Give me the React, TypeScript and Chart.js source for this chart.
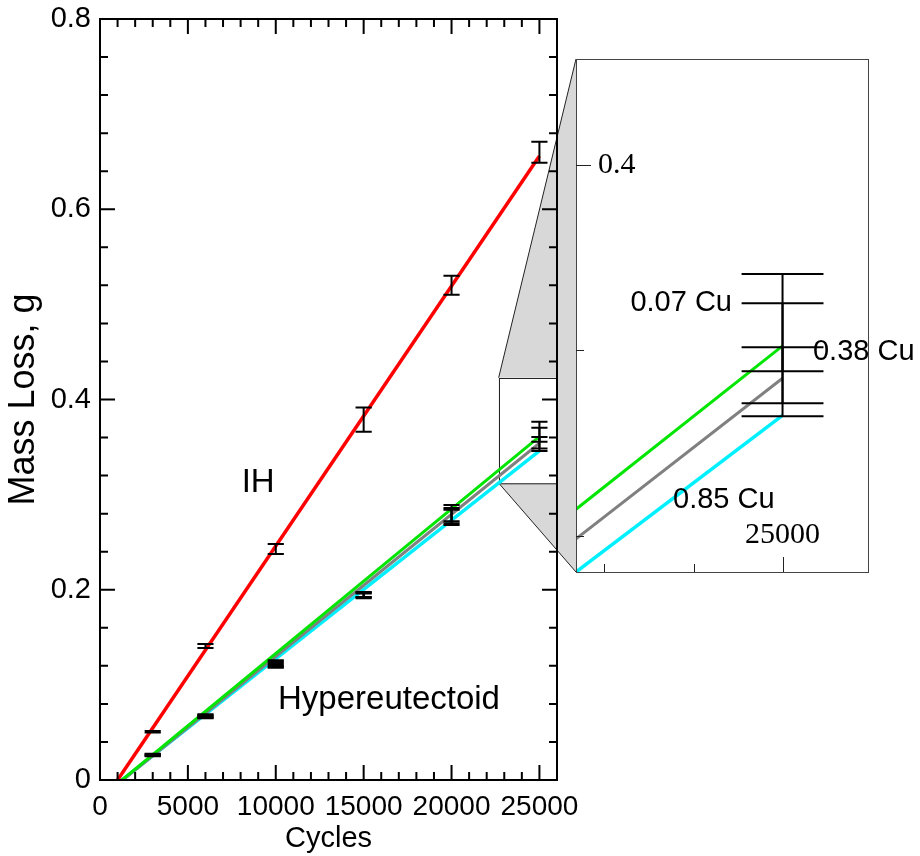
import React, { useEffect, useRef } from "react";
import { Chart, registerables } from "chart.js";

Chart.register(...registerables);

// ---------------- data ----------------
const cycles = [3000, 6000, 10000, 15000, 20000, 25000];

const ihLow = [0.05, 0.1388, 0.2377, 0.3662, 0.51, 0.649];
const ihHigh = [0.0515, 0.143, 0.248, 0.3915, 0.53, 0.671];
const cu007Low = [0.025, 0.065, 0.118, 0.191, 0.268, 0.3458];
const cu007High = [0.0275, 0.069, 0.126, 0.1977, 0.289, 0.3765];
const cu038Low = [0.026, 0.066, 0.119, 0.192, 0.27, 0.3486];
const cu038High = [0.027, 0.068, 0.124, 0.197, 0.286, 0.3702];
const cu085Low = [0.0255, 0.0655, 0.12, 0.1925, 0.272, 0.3555];
const cu085High = [0.0265, 0.0675, 0.122, 0.196, 0.284, 0.3607];

// fitted lines (end points)
const ihFitX = [1000, 25000];
const ihFitY = [0, 0.656];
const cu007FitX = [1250, 25000];
const cu007FitY = [0, 0.361];
const cu038FitX = [1300, 25000];
const cu038FitY = [0, 0.354];
const cu085FitX = [1250, 25000];
const cu085FitY = [0, 0.346];

const xTickLabels = [0, 5000, 10000, 15000, 20000, 25000];
const yTickLabels = [0, 0.2, 0.4, 0.6, 0.8];
const insetXMajor = [25000];
const insetXMinor = [23000, 24000];
const insetYMajor = [0.4];
const insetYMinor = [0.32, 0.36];
const zoomXRange = [22680, 25960];
const zoomYRange = [0.3122, 0.4229];

const groupLabels = ["IH", "Hypereutectoid"];
const seriesLabels = ["0.07 Cu", "0.38 Cu", "0.85 Cu"];

// ---------------- layout / style ----------------
const W = 920;
const H = 856;
const INSET = { left: 576, top: 59, right: 868, bottom: 572 };
const SANS = '"Liberation Sans", Arial, sans-serif';
const SERIF = '"Liberation Serif", "Times New Roman", serif';
const RED = "#ff0000";
const GREEN = "#00e600";
const GRAY = "#808080";
const CYAN = "#00f0ff";
const CAP_HALF = 460; // in cycles

const pts = (xs: number[], ys: number[]) => xs.map((x, i) => ({ x, y: ys[i] }));

const errorSets = [
  { x: cycles, low: ihLow, high: ihHigh },
  { x: cycles, low: cu007Low, high: cu007High },
  { x: cycles, low: cu038Low, high: cu038High },
  { x: cycles, low: cu085Low, high: cu085High },
];

function lineDataset(label: string, xs: number[], ys: number[], color: string, width: number) {
  return {
    label,
    data: pts(xs, ys),
    showLine: true,
    borderColor: color,
    backgroundColor: color,
    borderWidth: width,
    pointRadius: 0,
    pointHoverRadius: 0,
  };
}

function drawErrorBars(chart: any, sets: any[], lw: number) {
  const { ctx, chartArea } = chart;
  const xs = chart.scales.x;
  const ys = chart.scales.y;
  ctx.save();
  ctx.beginPath();
  ctx.rect(chartArea.left, chartArea.top, chartArea.right - chartArea.left, chartArea.bottom - chartArea.top);
  ctx.clip();
  ctx.strokeStyle = "#000";
  ctx.lineWidth = lw;
  sets.forEach((s) =>
    s.low.forEach((lo: number, i: number) => {
      const hi = s.high[i];
      const cx = xs.getPixelForValue(s.x[i]);
      const xl = xs.getPixelForValue(s.x[i] - CAP_HALF);
      const xr = xs.getPixelForValue(s.x[i] + CAP_HALF);
      const yl = ys.getPixelForValue(lo);
      const yh = ys.getPixelForValue(hi);
      ctx.beginPath();
      ctx.moveTo(cx, yl);
      ctx.lineTo(cx, yh);
      ctx.moveTo(xl, yl);
      ctx.lineTo(xr, yl);
      ctx.moveTo(xl, yh);
      ctx.lineTo(xr, yh);
      ctx.stroke();
    })
  );
  ctx.restore();
}

const mainPlugin = {
  id: "mainDecor",
  beforeDatasetsDraw(chart: any) {
    const { ctx } = chart;
    const xs = chart.scales.x;
    const ys = chart.scales.y;
    const l = xs.getPixelForValue(zoomXRange[0]);
    const r = xs.getPixelForValue(zoomXRange[1]);
    const t = ys.getPixelForValue(zoomYRange[1]);
    const b = ys.getPixelForValue(zoomYRange[0]);
    ctx.save();
    ctx.fillStyle = "#d8d8d8";
    ctx.beginPath();
    ctx.moveTo(l, t);
    ctx.lineTo(INSET.left, INSET.top);
    ctx.lineTo(INSET.left, INSET.bottom);
    ctx.lineTo(l, b);
    ctx.closePath();
    ctx.fill();
    ctx.fillStyle = "#fff";
    ctx.fillRect(l, t, r - l, b - t);
    ctx.strokeStyle = "#222";
    ctx.lineWidth = 1;
    ctx.strokeRect(Math.round(l) + 0.5, Math.round(t) + 0.5, r - l, b - t);
    ctx.beginPath();
    ctx.moveTo(l, t);
    ctx.lineTo(INSET.left, INSET.top);
    ctx.moveTo(l, b);
    ctx.lineTo(INSET.left, INSET.bottom);
    ctx.stroke();
    ctx.restore();
  },
  afterDatasetsDraw(chart: any) {
    drawErrorBars(chart, errorSets, 2);
  },
  afterDraw(chart: any) {
    const { ctx, chartArea } = chart;
    const { left, right, top, bottom } = chartArea;
    const xs = chart.scales.x;
    const ys = chart.scales.y;
    ctx.save();
    ctx.strokeStyle = "#000";
    ctx.lineWidth = 2;
    ctx.strokeRect(left, top, right - left, bottom - top);
    ctx.beginPath();
    for (let v = 0; v <= xs.max; v += 1000) {
      const px = xs.getPixelForValue(v);
      const len = v % 5000 === 0 ? 15 : 8;
      ctx.moveTo(px, bottom);
      ctx.lineTo(px, bottom - len);
      ctx.moveTo(px, top);
      ctx.lineTo(px, top + len);
    }
    for (let k = 0; k <= 20; k++) {
      const py = ys.getPixelForValue(k * 0.04);
      const len = k % 5 === 0 ? 15 : 8;
      ctx.moveTo(left, py);
      ctx.lineTo(left + len, py);
      ctx.moveTo(right, py);
      ctx.lineTo(right - len, py);
    }
    ctx.stroke();
    // group labels
    ctx.fillStyle = "#000";
    ctx.font = `33px ${SANS}`;
    ctx.textBaseline = "middle";
    ctx.textAlign = "center";
    ctx.fillText(groupLabels[0], xs.getPixelForValue(9000), ys.getPixelForValue(0.3122));
    ctx.textAlign = "left";
    ctx.fillText(groupLabels[1], xs.getPixelForValue(10127), ys.getPixelForValue(0.0841));
    ctx.restore();
  },
};

const insetPlugin = {
  id: "insetDecor",
  beforeDraw(chart: any) {
    const { ctx, chartArea } = chart;
    ctx.save();
    ctx.fillStyle = "#fff";
    ctx.fillRect(chartArea.left, chartArea.top, chartArea.right - chartArea.left, chartArea.bottom - chartArea.top);
    ctx.restore();
  },
  afterDatasetsDraw(chart: any) {
    drawErrorBars(chart, errorSets, 2);
  },
  afterDraw(chart: any) {
    const { ctx, chartArea } = chart;
    const { left, right, top, bottom } = chartArea;
    const xs = chart.scales.x;
    const ys = chart.scales.y;
    ctx.save();
    ctx.strokeStyle = "#444";
    ctx.lineWidth = 1;
    ctx.strokeRect(left + 0.5, top + 0.5, right - left, bottom - top);
    ctx.strokeStyle = "#222";
    ctx.beginPath();
    insetXMinor.forEach((v) => {
      const px = Math.round(xs.getPixelForValue(v)) + 0.5;
      ctx.moveTo(px, bottom);
      ctx.lineTo(px, bottom - 8);
    });
    insetXMajor.forEach((v) => {
      const px = Math.round(xs.getPixelForValue(v)) + 0.5;
      ctx.moveTo(px, bottom);
      ctx.lineTo(px, bottom - 15);
    });
    insetYMinor.forEach((v) => {
      const py = Math.round(ys.getPixelForValue(v)) + 0.5;
      ctx.moveTo(left, py);
      ctx.lineTo(left + 8, py);
    });
    insetYMajor.forEach((v) => {
      const py = Math.round(ys.getPixelForValue(v)) + 0.5;
      ctx.moveTo(left, py);
      ctx.lineTo(left + 15, py);
    });
    ctx.stroke();
    ctx.fillStyle = "#000";
    ctx.font = `30px ${SERIF}`;
    ctx.textBaseline = "middle";
    ctx.textAlign = "left";
    insetYMajor.forEach((v) => ctx.fillText(String(v), left + 22, ys.getPixelForValue(v)));
    ctx.textAlign = "center";
    insetXMajor.forEach((v) => ctx.fillText(String(v), xs.getPixelForValue(v), bottom - 37));
    // series labels
    ctx.font = `29px ${SANS}`;
    ctx.textAlign = "right";
    ctx.fillText(seriesLabels[0], xs.getPixelForValue(24432), ys.getPixelForValue(0.3702));
    ctx.textAlign = "left";
    ctx.fillText(seriesLabels[1], xs.getPixelForValue(25342), ys.getPixelForValue(0.3596));
    ctx.fillText(seriesLabels[2], xs.getPixelForValue(23770), ys.getPixelForValue(0.3278));
    ctx.restore();
  },
};

export default function App() {
  const mainRef = useRef<HTMLCanvasElement | null>(null);
  const insetRef = useRef<HTMLCanvasElement | null>(null);

  useEffect(() => {
    if (!mainRef.current || !insetRef.current) return;
    const hypDatasets = () => [
      lineDataset("0.07 Cu", cu007FitX, cu007FitY, GREEN, 3),
      lineDataset("0.38 Cu", cu038FitX, cu038FitY, GRAY, 3),
      lineDataset("0.85 Cu", cu085FitX, cu085FitY, CYAN, 3.5),
    ];
    const main = new Chart(mainRef.current, {
      type: "scatter",
      data: {
        datasets: [lineDataset("IH", ihFitX, ihFitY, RED, 3.5), ...hypDatasets()] as any,
      },
      options: {
        animation: false,
        responsive: false,
        maintainAspectRatio: false,
        devicePixelRatio: 1,
        layout: { padding: { left: 0, top: 19, right: W - 557, bottom: 0 } },
        plugins: { legend: { display: false }, tooltip: { enabled: false } },
        events: [],
        scales: {
          x: {
            type: "linear",
            min: 0,
            max: 26000,
            afterBuildTicks: (s: any) => {
              s.ticks = xTickLabels.map((v) => ({ value: v }));
            },
            afterFit: (s: any) => {
              s.height = H - 780;
              s.paddingLeft = 0;
              s.paddingRight = 0;
            },
            grid: { display: false, drawTicks: false },
            border: { display: false },
            ticks: {
              color: "#000",
              font: { family: SANS, size: 28 },
              padding: 10,
              maxRotation: 0,
              autoSkip: false,
              callback: (v: any) => String(v),
            },
            title: {
              display: true,
              text: "Cycles",
              color: "#000",
              font: { family: SANS, size: 29 },
              padding: { top: 0, bottom: 0 },
            },
          },
          y: {
            type: "linear",
            min: 0,
            max: 0.8,
            afterBuildTicks: (s: any) => {
              s.ticks = yTickLabels.map((v) => ({ value: v }));
            },
            afterFit: (s: any) => {
              s.width = 100;
              s.paddingTop = 0;
              s.paddingBottom = 0;
            },
            grid: { display: false, drawTicks: false },
            border: { display: false },
            ticks: {
              color: "#000",
              font: { family: SANS, size: 29 },
              padding: 9,
              autoSkip: false,
              callback: (v: any) => (Number(v) === 0 ? "0" : Number(v).toFixed(1)),
            },
            title: {
              display: true,
              text: "Mass Loss, g",
              color: "#000",
              font: { family: SANS, size: 36 },
              padding: { top: 2, bottom: 0 },
            },
          },
        },
      } as any,
      plugins: [mainPlugin],
    });

    const inset = new Chart(insetRef.current, {
      type: "scatter",
      data: { datasets: hypDatasets() as any },
      options: {
        animation: false,
        responsive: false,
        maintainAspectRatio: false,
        devicePixelRatio: 1,
        events: [],
        layout: {
          padding: { left: INSET.left, top: INSET.top, right: W - INSET.right, bottom: H - INSET.bottom },
        },
        plugins: { legend: { display: false }, tooltip: { enabled: false } },
        scales: {
          x: { type: "linear", display: false, min: zoomXRange[0], max: zoomXRange[1] },
          y: { type: "linear", display: false, min: zoomYRange[0], max: zoomYRange[1] },
        },
      } as any,
      plugins: [insetPlugin],
    });

    return () => {
      main.destroy();
      inset.destroy();
    };
  }, []);

  return (
    <div style={{ position: "absolute", left: 0, top: 0, width: W, height: H, background: "#fff" }}>
      <canvas
        ref={mainRef}
        width={W}
        height={H}
        style={{ position: "absolute", left: 0, top: 0, width: W, height: H }}
      />
      <canvas
        ref={insetRef}
        width={W}
        height={H}
        style={{ position: "absolute", left: 0, top: 0, width: W, height: H, pointerEvents: "none" }}
      />
    </div>
  );
}
